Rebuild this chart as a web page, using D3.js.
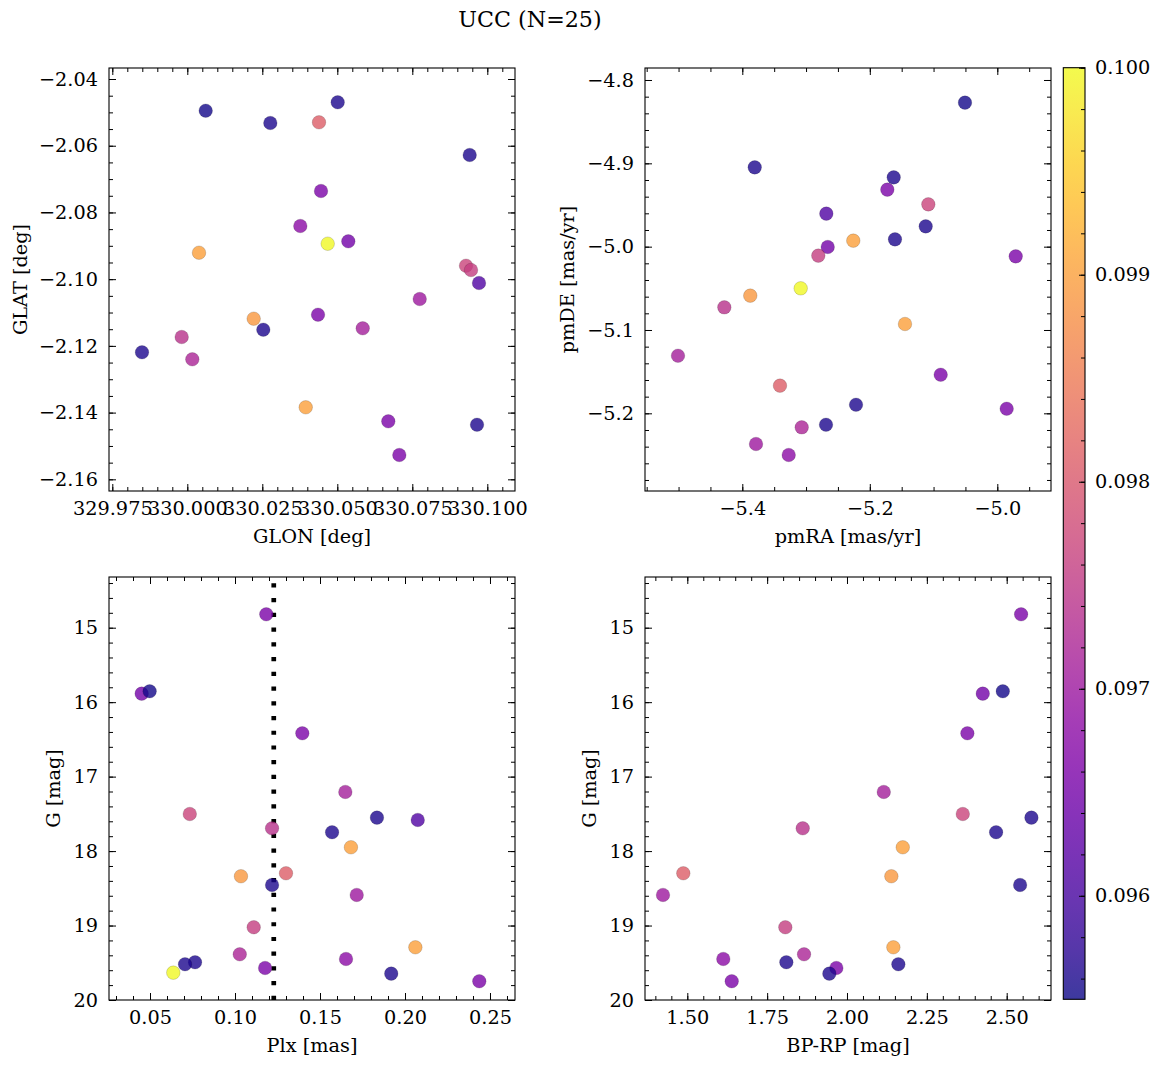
<!DOCTYPE html>
<html>
<head>
<meta charset="utf-8">
<script src="https://cdn.jsdelivr.net/npm/d3@7"></script>
<style>
  html, body { margin: 0; padding: 0; background: #fff; }
  svg { display: block; }
</style>
</head>
<body>
<svg id="chart" width="1160" height="1067"></svg>
<script>
// ---------------- DATA ----------------
const glon = [330.04457, 330.05367, 330.00613, 330.04357, 330.05847, 330.09290, 330.02767, 330.09723, 329.99813, 330.05013, 330.00390, 330.04390, 330.02213, 330.09413, 330.07747, 330.09457, 330.03947, 330.00167, 330.03767, 330.02533, 329.98490, 330.06700, 330.04680, 330.09657, 330.07067];
const glat = [-2.07357, -2.08865, -2.04950, -2.11065, -2.11473, -2.09597, -2.05319, -2.10115, -2.11734, -2.04698, -2.09207, -2.05298, -2.11185, -2.06278, -2.10595, -2.09725, -2.13841, -2.12402, -2.08406, -2.11515, -2.12192, -2.14261, -2.08937, -2.14363, -2.15271];
const pmra = [-5.1725, -5.2660, -5.0507, -4.9711, -5.5009, -5.1082, -5.3805, -5.2682, -5.4282, -5.1625, -5.2259, -5.3409, -5.3875, -5.1123, -5.3785, -5.2808, -5.1448, -5.3068, -5.3272, -5.1605, -5.2216, -5.0888, -5.3084, -5.2687, -4.9853];
const pmde = [-4.9316, -5.0004, -4.8272, -5.0116, -5.1309, -4.9492, -4.9048, -4.9604, -5.0728, -4.9168, -4.9928, -5.1668, -5.0588, -4.9756, -5.2368, -5.0108, -5.0928, -5.2168, -5.2500, -4.9912, -5.1897, -5.1537, -5.0500, -5.2137, -5.1945];
const plx  = [0.1184, 0.0451, 0.0498, 0.1396, 0.1649, 0.0734, 0.1835, 0.2075, 0.1218, 0.1571, 0.1682, 0.1300, 0.1035, 0.1218, 0.1716, 0.1110, 0.2061, 0.1028, 0.1653, 0.0765, 0.0706, 0.1177, 0.0637, 0.1919, 0.2437];
const gmag = [14.820, 15.886, 15.854, 16.418, 17.206, 17.502, 17.551, 17.582, 17.694, 17.747, 17.949, 18.298, 18.338, 18.455, 18.589, 19.023, 19.292, 19.386, 19.449, 19.493, 19.520, 19.570, 19.633, 19.646, 19.748];
const bprp = [2.5451, 2.4251, 2.4878, 2.3769, 2.1151, 2.3625, 2.5774, null, 1.8614, 2.4668, 2.1746, 1.4875, 2.1389, 2.5420, 1.4239, 1.8069, 2.1452, 1.8655, 1.6127, 1.8101, 2.1608, 1.9667, null, 1.9447, 1.6391];
const prob = [0.0966, 0.0965, 0.09555, 0.0966, 0.0971, 0.0977, 0.0956, 0.0961, 0.0974, 0.0956, 0.0990, 0.0981, 0.0989, 0.0956, 0.0970, 0.0976, 0.0990, 0.0972, 0.0968, 0.0956, 0.0956, 0.0966, 0.09998, 0.0956, 0.0966];
const plxLine = 0.1228;
const colorDomain = [0.0955, 0.1000];

// tick values
const glonTicks = [329.975, 330.000, 330.025, 330.050, 330.075, 330.100];
const glatTicks = [-2.16, -2.14, -2.12, -2.10, -2.08, -2.06, -2.04];
const pmraTicks = [-5.4, -5.2, -5.0];
const pmdeTicks = [-5.2, -5.1, -5.0, -4.9, -4.8];
const plxTicks  = [0.05, 0.10, 0.15, 0.20, 0.25];
const gTicks    = [15, 16, 17, 18, 19, 20];
const bprpTicks = [1.50, 1.75, 2.00, 2.25, 2.50];
const cbarTicks = [0.096, 0.097, 0.098, 0.099, 0.100];

const title = "UCC (N=25)";

// ---------------- DRAWING ----------------
const svg = d3.select("#chart");
const FONT = "'DejaVu Serif', serif";
const FS = 19.3;
const TFS = 22.2;
const color = d3.scaleSequential(d3.interpolatePlasma).domain(colorDomain);

function minorTicks(domain, step) {
  const lo = Math.min(domain[0], domain[1]), hi = Math.max(domain[0], domain[1]);
  const out = [];
  const start = Math.ceil(lo / step - 1e-9);
  for (let k = start; k * step <= hi + 1e-12; k++) out.push(+(k * step).toFixed(8));
  return out;
}

function styleText(sel) {
  sel.selectAll("text").attr("font-family", FONT).attr("font-size", FS).attr("fill", "#000");
}

function panel(cfg) {
  const g = svg.append("g");
  const x = d3.scaleLinear().domain(cfg.xd).range([cfg.x0, cfg.x1]);
  const y = d3.scaleLinear().domain(cfg.yd).range([cfg.y1, cfg.y0]);
  const xMinor = minorTicks(cfg.xd, cfg.xm);
  const yMinor = minorTicks(cfg.yd, cfg.ym);

  const addAxis = (axis, tr) => {
    const a = g.append("g").attr("transform", tr).call(axis);
    a.select(".domain").remove();
    a.selectAll("line").attr("stroke", "#000").attr("stroke-width", 1);
    styleText(a);
    return a;
  };
  // bottom
  addAxis(d3.axisBottom(x).tickValues(cfg.xt).tickFormat(d3.format(cfg.xf)).tickSize(-7).tickPadding(10.3), `translate(0,${cfg.y1})`);
  addAxis(d3.axisBottom(x).tickValues(xMinor).tickFormat("").tickSize(-4), `translate(0,${cfg.y1})`);
  // top
  addAxis(d3.axisTop(x).tickValues(cfg.xt).tickFormat("").tickSize(-7), `translate(0,${cfg.y0})`);
  addAxis(d3.axisTop(x).tickValues(xMinor).tickFormat("").tickSize(-4), `translate(0,${cfg.y0})`);
  // left
  addAxis(d3.axisLeft(y).tickValues(cfg.yt).tickFormat(d3.format(cfg.yf)).tickSize(-7).tickPadding(11), `translate(${cfg.x0},0)`);
  addAxis(d3.axisLeft(y).tickValues(yMinor).tickFormat("").tickSize(-4), `translate(${cfg.x0},0)`);
  // right
  addAxis(d3.axisRight(y).tickValues(cfg.yt).tickFormat("").tickSize(-7), `translate(${cfg.x1},0)`);
  addAxis(d3.axisRight(y).tickValues(yMinor).tickFormat("").tickSize(-4), `translate(${cfg.x1},0)`);

  if (cfg.vline !== undefined) {
    g.append("line")
      .attr("x1", x(cfg.vline)).attr("x2", x(cfg.vline))
      .attr("y1", cfg.y1).attr("y2", cfg.y0)
      .attr("stroke", "#000").attr("stroke-width", 4.7)
      .attr("stroke-dasharray", "4.2 10.53");
  }

  const idx = d3.range(cfg.xs.length).filter(i => cfg.xs[i] !== null && cfg.ys[i] !== null);
  g.append("g").selectAll("circle").data(idx).join("circle")
    .attr("cx", i => x(cfg.xs[i]))
    .attr("cy", i => y(cfg.ys[i]))
    .attr("r", 6.8)
    .attr("fill", i => color(prob[i]))
    .attr("fill-opacity", 0.8)
    .attr("stroke", "#000")
    .attr("stroke-opacity", 0.25)
    .attr("stroke-width", 0.6);

  // frame
  g.append("rect")
    .attr("x", cfg.x0).attr("y", cfg.y0)
    .attr("width", cfg.x1 - cfg.x0).attr("height", cfg.y1 - cfg.y0)
    .attr("fill", "none").attr("stroke", "#000").attr("stroke-width", 1.1);

  // axis labels
  g.append("text")
    .attr("x", (cfg.x0 + cfg.x1) / 2).attr("y", cfg.y1 + 52)
    .attr("text-anchor", "middle")
    .attr("font-family", FONT).attr("font-size", FS)
    .text(cfg.xl);
  g.append("text")
    .attr("transform", `translate(${cfg.ylx},${(cfg.y0 + cfg.y1) / 2}) rotate(-90)`)
    .attr("text-anchor", "middle")
    .attr("font-family", FONT).attr("font-size", FS)
    .text(cfg.yl);
}

panel({ x0: 109, x1: 515, y0: 68, y1: 491,
  xd: [329.9739, 330.10923], yd: [-2.16350, -2.03670],
  xt: glonTicks, yt: glatTicks, xm: 0.005, ym: 0.005, xf: ".3f", yf: ".2f",
  xs: glon, ys: glat, xl: "GLON [deg]", yl: "GLAT [deg]", ylx: 26.5 });

panel({ x0: 645, x1: 1051, y0: 68, y1: 491,
  xd: [-5.55263, -4.91576], yd: [-5.29322, -4.7856],
  xt: pmraTicks, yt: pmdeTicks, xm: 0.05, ym: 0.02, xf: ".1f", yf: ".1f",
  xs: pmra, ys: pmde, xl: "pmRA [mas/yr]", yl: "pmDE [mas/yr]", ylx: 574 });

panel({ x0: 109, x1: 515, y0: 577, y1: 1000,
  xd: [0.025882, 0.264706], yd: [20, 14.3191],
  xt: plxTicks, yt: gTicks, xm: 0.01, ym: 0.2, xf: ".2f", yf: "d",
  xs: plx, ys: gmag, xl: "Plx [mas]", yl: "G [mag]", ylx: 60, vline: plxLine });

panel({ x0: 645, x1: 1051, y0: 577, y1: 1000,
  xd: [1.36757, 2.63870], yd: [20, 14.3191],
  xt: bprpTicks, yt: gTicks, xm: 0.05, ym: 0.2, xf: ".2f", yf: "d",
  xs: bprp, ys: gmag, xl: "BP-RP [mag]", yl: "G [mag]", ylx: 596 });

// ---------------- COLORBAR ----------------
const cb = { x0: 1063.3, x1: 1085, y0: 67.7, y1: 999.3 };
const cy = d3.scaleLinear().domain(colorDomain).range([cb.y1, cb.y0]);
const defs = svg.append("defs");
const grad = defs.append("linearGradient").attr("id", "cbgrad")
  .attr("x1", 0).attr("y1", 1).attr("x2", 0).attr("y2", 0);
d3.range(0, 1.0001, 0.05).forEach(t => {
  grad.append("stop").attr("offset", t).attr("stop-color", d3.interpolatePlasma(t));
});
svg.append("rect").attr("x", cb.x0).attr("y", cb.y0)
  .attr("width", cb.x1 - cb.x0).attr("height", cb.y1 - cb.y0)
  .attr("fill", "url(#cbgrad)").attr("fill-opacity", 0.8);
const cbMinor = minorTicks(colorDomain, 0.0002);
const cbA = svg.append("g").attr("transform", `translate(${cb.x1},0)`)
  .call(d3.axisRight(cy).tickValues(cbarTicks).tickFormat(d3.format(".3f")).tickSize(-6).tickPadding(10));
cbA.select(".domain").remove();
styleText(cbA);
const cbB = svg.append("g").attr("transform", `translate(${cb.x1},0)`)
  .call(d3.axisRight(cy).tickValues(cbMinor).tickFormat("").tickSize(-4));
cbB.select(".domain").remove();
svg.selectAll("g line").attr("stroke", "#000");
svg.append("rect").attr("x", cb.x0).attr("y", cb.y0)
  .attr("width", cb.x1 - cb.x0).attr("height", cb.y1 - cb.y0)
  .attr("fill", "none").attr("stroke", "#000").attr("stroke-width", 1.1);

// ---------------- TITLE ----------------
svg.append("text").attr("x", 530).attr("y", 27)
  .attr("text-anchor", "middle")
  .attr("font-family", FONT).attr("font-size", TFS)
  .text(title);
</script>
</body>
</html>
